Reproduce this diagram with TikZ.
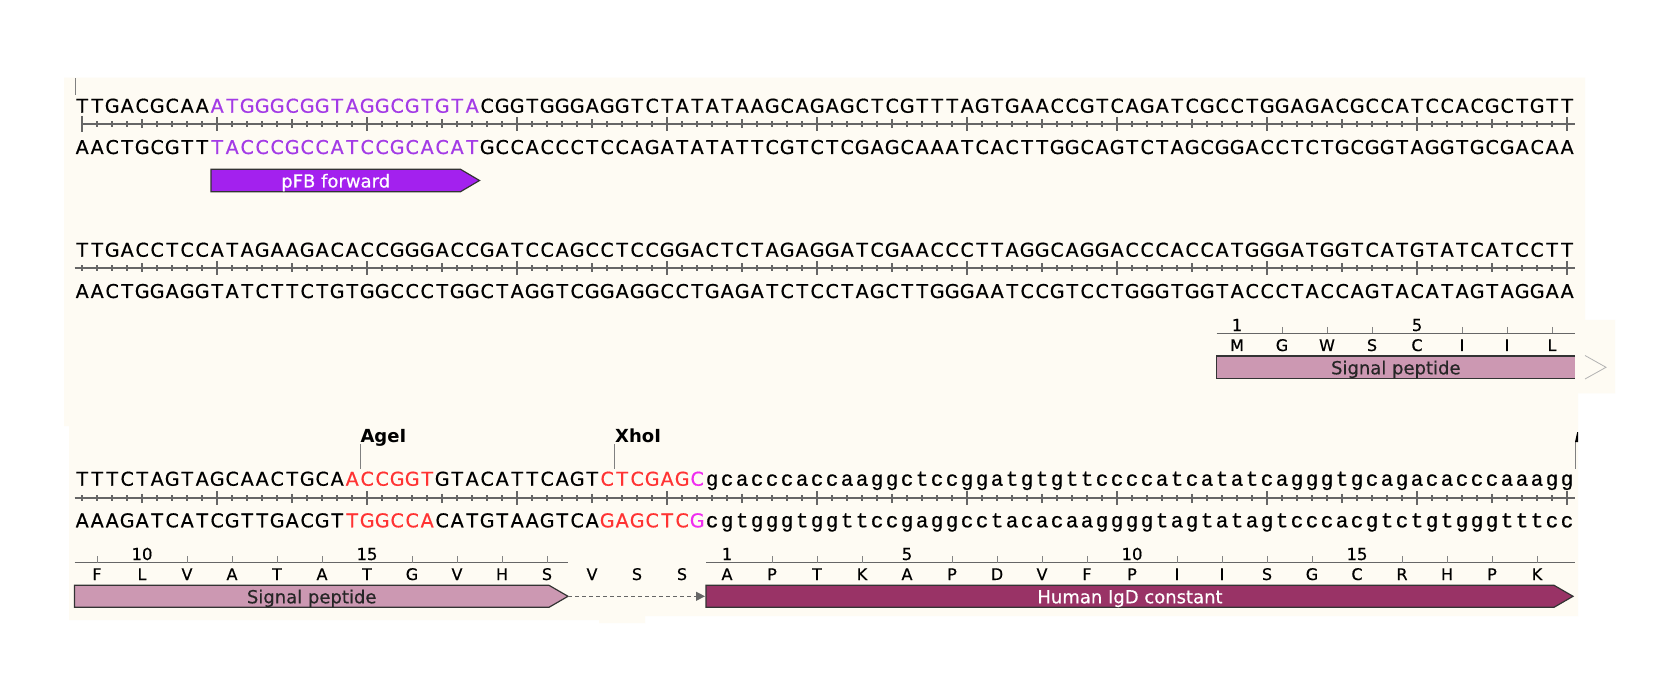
\documentclass[tikz,border=0pt]{standalone}
\usepackage{fontspec}
\setmainfont{DejaVu Sans}
\newfontface\seqfont{DejaVu Sans}[FakeBold=0.7]
\newfontface\aafont{DejaVu Sans}[FakeBold=0.5]
\newfontface\lcfont{Liberation Mono}[FakeBold=0.7]
\usetikzlibrary{arrows.meta}
\definecolor{cream}{HTML}{FEFBF3}
\definecolor{rulergray}{HTML}{666666}
\definecolor{primertxt}{HTML}{A33BE6}
\definecolor{primerfill}{HTML}{A321EE}
\definecolor{sitered}{HTML}{FF3333}
\definecolor{sitemag}{HTML}{F02CF0}
\definecolor{sigfill}{HTML}{CC98B2}
\definecolor{igdfill}{HTML}{993366}
\definecolor{barborder}{HTML}{333333}
\newcommand\sq[1]{\sqA#1\relax}
\def\sqA#1{\ifx#1\relax\else\makebox[15pt][c]{#1}\expandafter\sqA\fi}
\newcommand\lcseq[1]{{\lcfont\fontsize{21}{24}\selectfont\sq{#1}}}
\newcommand\seqruler[2]{%
  \draw[rulerline] (#2,#1) -- (1575,#1);
  \foreach \i in {1,...,100}{%
    \pgfmathsetmacro\tx{82+(\i-1)*15}%
    \pgfmathsetmacro\th{mod(\i,10)==0 ? 7 : (mod(\i,5)==0 ? 4.5 : 2.8)}%
    \pgfmathsetmacro\tw{mod(\i,5)==0 ? 2 : 1.5}%
    \draw[draw=rulergray, line width=\tw pt] (\tx,#1-\th) -- (\tx,#1+\th);
  }%
}
\begin{document}
\begin{tikzpicture}[x=1pt,y=-1pt,
  seqtxt/.style={inner sep=0pt, anchor=base west, font=\seqfont\fontsize{19}{22}\selectfont},
  aatxt/.style={inner sep=0pt, anchor=base, font=\aafont\fontsize{16}{19}\selectfont},
  numtxt/.style={inner sep=0pt, anchor=base, font=\aafont\fontsize{16.5}{19}\selectfont},
  enztxt/.style={inner sep=0pt, anchor=base west, font=\fontsize{18}{21}\selectfont\bfseries},
  ftxt/.style={inner sep=0pt, anchor=base, font=\aafont\fontsize{18}{21}\selectfont},
  rulerline/.style={draw=rulergray, line width=2pt},
  aaline/.style={draw=rulergray, line width=1.2pt},
  aatick/.style={draw=rulergray!80, line width=1pt},
  featbar/.style={draw=barborder, line width=1.2pt},
  cutline/.style={draw=gray, line width=1pt},
  conn/.style={draw=rulergray, line width=1.2pt, dash pattern=on 4pt off 3pt, -{Triangle[length=9pt,width=9pt]}}
]
\useasboundingbox (0,0) rectangle (1667,684);
\fill[white] (0,0) rectangle (1667,684);
% background
\fill[cream] (64,77.7) -- (1585,77.7) -- (1585,320) -- (1615,320) -- (1615,393.3) -- (1578,393.3)
  -- (1578,616) -- (645,616) -- (645,623) -- (599,623) -- (599,620) -- (69,620) -- (69,426) -- (64,426) -- cycle;
% cursor
\draw[gray, line width=0.8pt] (75.7,78.3) -- (75.7,95);

% ---------- Row 1 ----------
\node[seqtxt] (r1top) at (74.5,112.7) {\sq{TTGACGCAA}\textcolor{primertxt}{\sq{ATGGGCGGTAGGCGTGTA}}\sq{CGGTGGGAGGTCTATATAAGCAGAGCTCGTTTAGTGAACCGTCAGATCGCCTGGAGACGCCATCCACGCTGTT}};
\seqruler{124}{82}
\draw[draw=rulergray, line width=2pt] (82,116) -- (82,132.5);
\node[seqtxt] (r1bot) at (74.5,154) {\sq{AACTGCGTT}\textcolor{primertxt}{\sq{TACCCGCCATCCGCACAT}}\sq{GCCACCCTCCAGATATATTCGTCTCGAGCAAATCACTTGGCAGTCTAGCGGACCTCTGCGGTAGGTGCGACAA}};
\filldraw[featbar, fill=primerfill] (211,169.3) -- (460.5,169.3) -- (479.5,180.5) -- (460.5,191.7) -- (211,191.7) -- cycle;
\node[ftxt, text=white] (pfb) at (335.7,187.5) {pFB forward};

% ---------- Row 2 ----------
\node[seqtxt] (r2top) at (74.5,256.7) {\sq{TTGACCTCCATAGAAGACACCGGGACCGATCCAGCCTCCGGACTCTAGAGGATCGAACCCTTAGGCAGGACCCACCATGGGATGGTCATGTATCATCCTT}};
\seqruler{268}{74.5}
\node[seqtxt] (r2bot) at (74.5,298) {\sq{AACTGGAGGTATCTTCTGTGGCCCTGGCTAGGTCGGAGGCCTGAGATCTCCTAGCTTGGGAATCCGTCCTGGGTGGTACCCTACCAGTACATAGTAGGAA}};
\draw[aaline] (1216.7,333.3) -- (1575,333.3);
\foreach \a [count=\k] in {M,G,W,S,C,I,I,L}{
  \pgfmathsetmacro\ax{1237+45*(\k-1)}
  \node[aatxt] (aa2-\k) at (\ax,351) {\a};
  \ifnum\k=1 \else\ifnum\k=5 \else \draw[aatick] (\ax,327) -- (\ax,333.3); \fi\fi
}
\node[numtxt] (n2-1) at (1237,331) {1};
\node[numtxt] (n2-5) at (1417,331) {5};
\fill[sigfill] (1216.7,356) rectangle (1575,378.3);
\draw[featbar] (1575,356) -- (1216.7,356) -- (1216.7,378.3) -- (1575,378.3);
\node[ftxt, text=black!85] (sig1) at (1395.8,374.3) {Signal peptide};
\draw[gray!60, line width=0.8pt] (1585,355.5) -- (1606,367.3) -- (1585,379);

% ---------- Row 3 ----------
\coordinate (ageitop) at (360,444);
\coordinate (ageicut) at (360,469);
\coordinate (xhoitop) at (614.5,444);
\coordinate (xhoicut) at (614.5,469);
\coordinate (endtop) at (1575.5,441.7);
\coordinate (endcut) at (1575.5,469);
\node[enztxt] (agei) at (360.3,442.5) {AgeI};
\node[enztxt] (xhoi) at (615,442.5) {XhoI};
\draw[cutline] (ageitop) -- (ageicut);
\draw[cutline] (xhoitop) -- (xhoicut);
\draw[cutline] (endtop) -- (endcut);
\fill[black] (1575,442) -- (1577.2,432) -- (1578,432) -- (1578,442) -- cycle;
\node[seqtxt] (r3top) at (74.5,485.7) {\sq{TTTCTAGTAGCAACTGCA}\textcolor{sitered}{\sq{ACCGGT}}\sq{GTACATTCAGT}\textcolor{sitered}{\sq{CTCGAG}}\textcolor{sitemag}{\sq{C}}\lcseq{gcacccaccaaggctccggatgtgttccccatcatatcagggtgcagacacccaaagg}};
\seqruler{498}{74.5}
\node[seqtxt] (r3bot) at (74.5,527.3) {\sq{AAAGATCATCGTTGACGT}\textcolor{sitered}{\sq{TGGCCA}}\sq{CATGTAAGTCA}\textcolor{sitered}{\sq{GAGCTC}}\textcolor{sitemag}{\sq{G}}\lcseq{cgtgggtggttccgaggcctacacaaggggtagtatagtcccacgtctgtgggtttcc}};
% translations
\draw[aaline] (74.5,562.5) -- (568,562.5);
\draw[aaline] (706,562.5) -- (1575,562.5);
\foreach \a [count=\k] in {F,L,V,A,T,A,T,G,V,H,S,V,S,S}{
  \pgfmathsetmacro\ax{97+45*(\k-1)}
  \node[aatxt] (aa3-\k) at (\ax,580) {\a};
  \ifnum\k<12 \ifnum\k=2 \else\ifnum\k=7 \else \draw[aatick] (\ax,556) -- (\ax,562.5); \fi\fi\fi
}
\node[numtxt] (n3-10) at (142,560) {10};
\node[numtxt] (n3-15) at (367,560) {15};
\foreach \a [count=\k] in {A,P,T,K,A,P,D,V,F,P,I,I,S,G,C,R,H,P,K}{
  \pgfmathsetmacro\ax{727+45*(\k-1)}
  \node[aatxt] (aa4-\k) at (\ax,580) {\a};
  \ifnum\k=1 \else\ifnum\k=5 \else\ifnum\k=10 \else\ifnum\k=15 \else \draw[aatick] (\ax,556) -- (\ax,562.5); \fi\fi\fi\fi
}
\node[numtxt] (n4-1) at (727,560) {1};
\node[numtxt] (n4-5) at (907,560) {5};
\node[numtxt] (n4-10) at (1132,560) {10};
\node[numtxt] (n4-15) at (1357,560) {15};
% features
\filldraw[featbar, fill=sigfill] (74.5,585.3) -- (549,585.3) -- (568,596.3) -- (549,607.3) -- (74.5,607.3) -- cycle;
\node[ftxt, text=black!85] (sig2) at (311.7,603.3) {Signal peptide};
\filldraw[featbar, fill=igdfill] (706,585.3) -- (1554,585.3) -- (1573,596.3) -- (1554,607.3) -- (706,607.3) -- cycle;
\node[ftxt, text=white] (igd) at (1130,603.3) {Human IgD constant};
\coordinate (sigtip) at (568,596.3);
\coordinate (igdin) at (705,596.3);
\draw[conn] (sigtip) -- (igdin);
\end{tikzpicture}
\end{document}
